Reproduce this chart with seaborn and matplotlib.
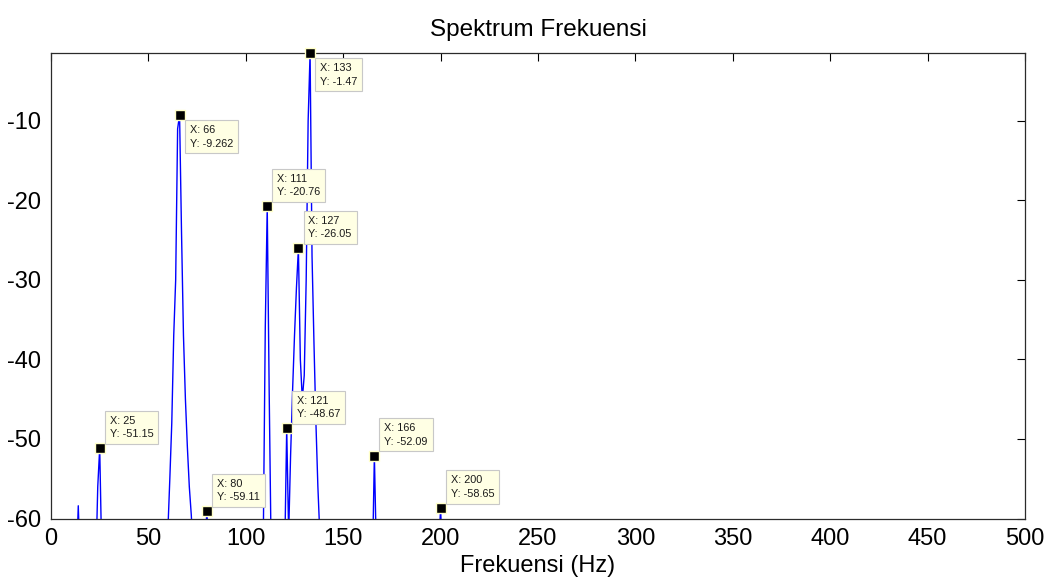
import matplotlib
matplotlib.use("Agg")
import matplotlib.pyplot as plt
import seaborn as sns
import pandas as pd

# Magnitude spectrum (dB) sampled at 1 Hz; points below -60 dB fall outside the view
spec_freq = [0, 13, 14, 15, 23, 24, 25, 26,
             59, 60, 61, 62, 63, 64, 65, 66, 67, 68, 69, 70, 71, 72, 73,
             79, 80, 81,
             108, 109, 110, 111, 112, 113,
             119, 120, 121, 122, 123, 124, 125, 126, 127, 128, 129, 130,
             131, 132, 133, 134, 135, 136, 137, 138, 139,
             165, 166, 167, 199, 200, 201, 500]
spec_db = [-70, -66, -58.4, -66, -66, -56, -51.15, -64,
           -66, -61.5, -55, -48, -37, -30, -11, -9.262, -24, -37, -45, -51, -56, -59.5, -64,
           -64, -59.11, -64,
           -66, -62, -36, -20.76, -44, -64,
           -66, -64, -48.67, -62, -52, -44, -37, -31, -26.05, -40, -45, -42,
           -30, -10, -1.47, -27, -38, -48, -56, -62, -66,
           -66, -52.09, -64, -64, -58.65, -66, -70]

# Frequencies carrying a data tip
tip_freq = [25, 66, 80, 111, 121, 127, 133, 166, 200]

x_ticks = [0, 50, 100, 150, 200, 250, 300, 350, 400, 450, 500]
y_ticks = [-60, -50, -40, -30, -20, -10]

spectrum = pd.DataFrame({"freq": spec_freq, "db": spec_db})
lookup = dict(zip(spec_freq, spec_db))
tip_db = [lookup[f] for f in tip_freq]

sns.set_style("white")
plt.rcParams["font.family"] = ["Liberation Sans", "DejaVu Sans"]
plt.rcParams["axes.unicode_minus"] = False

fig = plt.figure(figsize=(10.5, 5.77), dpi=100)
ax = fig.add_axes([51 / 1050, 1 - 518.5 / 577, 974 / 1050, 465.5 / 577])

sns.lineplot(data=spectrum, x="freq", y="db", ax=ax, color="#0000ff",
             linewidth=1.0, estimator=None, sort=True)

ax.set_xlim(0, 500)
ax.set_ylim(-60, max(spec_db))
ax.set_xticks(x_ticks)
ax.set_yticks(y_ticks)
ax.tick_params(axis="both", which="major", direction="in", length=6, width=0.8,
               top=True, right=True, labelsize=17, colors="#000000", pad=7)
for sp in ax.spines.values():
    sp.set_visible(True)
    sp.set_color("#2b2b2b")
    sp.set_linewidth(0.9)

ax.set_xlabel("")
ax.set_ylabel("")
ax.set_title("Spektrum Frekuensi", fontsize=17.5, pad=12, color="#000000")
fig.text(538 / 1050, 1 - 572 / 577, "Frekuensi (Hz)", ha="center",
         va="baseline", fontsize=17, color="#000000")

# Data tip markers
sns.scatterplot(x=tip_freq, y=tip_db, ax=ax, marker="s", s=42, color="black",
                edgecolor="#ffffc8", linewidth=1.0, zorder=6, clip_on=False,
                legend=False)

# Data tip boxes: most sit above-right of the marker, two below-right
below = {66, 133}
for f, v in zip(tip_freq, tip_db):
    label = f"X: {f}\nY: {v:.4g}"
    if f in below:
        off, va = (10, -10), "top"
    else:
        off, va = (10, 9), "bottom"
    ax.annotate(label, xy=(f, v), xytext=off, textcoords="offset pixels",
                ha="left", va=va, fontsize=7.8, color="#1a1a1a",
                linespacing=1.45, zorder=7, annotation_clip=False,
                bbox=dict(boxstyle="square,pad=0.45", facecolor="#ffffe4",
                          edgecolor="#c8c8c8", linewidth=0.8))

fig.savefig("out.png", dpi=100)
